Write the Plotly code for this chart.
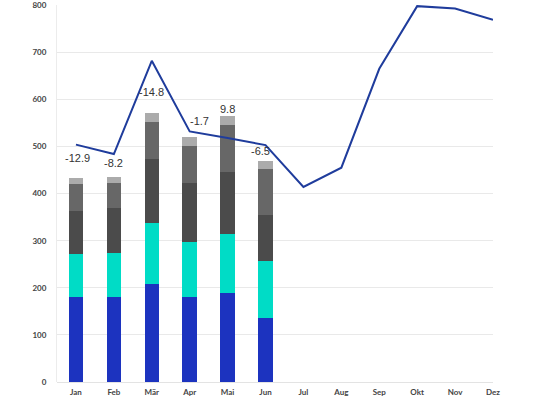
import plotly.graph_objects as go

months = ["Jan", "Feb", "Mär", "Apr", "Mai", "Jun", "Jul", "Aug", "Sep", "Okt", "Nov", "Dez"]
bar_months = months[:6]

seg_blue = [180, 181, 209, 181, 188, 135]
seg_teal = [92, 92, 128, 116, 126, 121]
seg_dark = [91, 96, 137, 125, 132, 98]
seg_mid = [58, 54, 79, 80, 99, 98]
seg_light = [13, 13, 19, 19, 20, 18]

line_values = [504, 484, 682, 532, 518, 503, 414, 455, 665, 798, 793, 769]

y_ticks = [0, 100, 200, 300, 400, 500, 600, 700, 800]

variance_labels = ["-12.9", "-8.2", "-14.8", "-1.7", "9.8", "-6.5"]
label_xshift = [2, 0, 0, 10, 0, -5]
label_yshift = [18, 12, 19, 14, 5, 8]

colors = ["#1c33bf", "#00dcc6", "#4b4b4b", "#676767", "#ababab"]
segments = [seg_blue, seg_teal, seg_dark, seg_mid, seg_light]

fig = go.Figure()
for seg, col in zip(segments, colors):
    fig.add_trace(go.Bar(x=bar_months, y=seg, marker=dict(color=col, line=dict(width=0)),
                         showlegend=False, hoverinfo="skip"))

fig.add_trace(go.Scatter(x=months, y=line_values, mode="lines",
                         line=dict(color="#1f3c9c", width=2), showlegend=False))

totals = [sum(v) for v in zip(*segments)]
for m, t, lab, dx, dy in zip(bar_months, totals, variance_labels, label_xshift, label_yshift):
    fig.add_annotation(x=m, y=t, text=lab, showarrow=False, yanchor="bottom",
                       xshift=dx, yshift=dy - 6,
                       font=dict(family="Liberation Sans, Arial", size=11, color="#333333"))

fig.update_layout(
    barmode="stack",
    bargap=0.62,
    width=540, height=399,
    margin=dict(l=57, r=47, t=5, b=17),
    paper_bgcolor="white",
    plot_bgcolor="white",
    font=dict(family="Lato, sans-serif", size=8, color="#444444"),
)
fig.update_xaxes(categoryorder="array", categoryarray=months, showgrid=False,
                 tickfont=dict(family="Lato", size=8, color="#444444", weight="bold"),
                 ticks="", showline=False, zeroline=False, ticklabelstandoff=4,
                 automargin=False)
fig.update_yaxes(range=[0, 800.4], tickmode="array", tickvals=y_ticks,
                 showgrid=True, gridcolor="#e9e9e9", gridwidth=1,
                 zeroline=True, zerolinecolor="#e3e3e3", zerolinewidth=1,
                 showline=True, linecolor="#ececec", linewidth=1,
                 tickfont=dict(family="Lato", size=8, color="#444444", weight="bold"),
                 ticks="", ticklabelstandoff=8, ticklabeloverflow="allow",
                 automargin=False)

fig.write_html("out.html", config={"displayModeBar": False},
               post_script="document.body.style.margin='0';document.body.style.overflow='hidden';")
